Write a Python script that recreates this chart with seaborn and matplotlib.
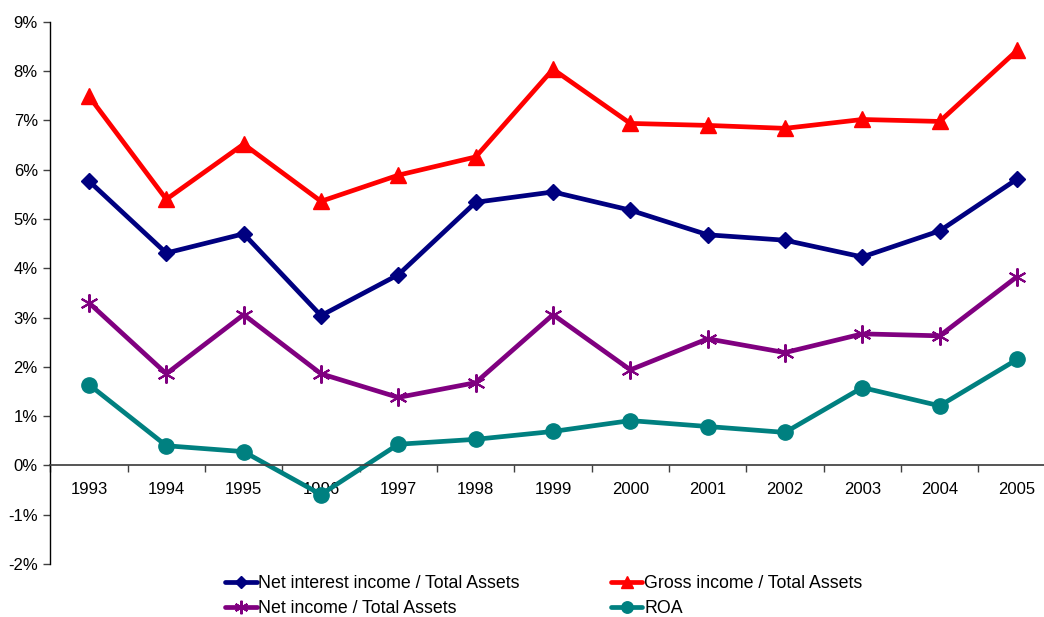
import matplotlib
matplotlib.use("Agg")
import matplotlib.pyplot as plt
import seaborn as sns
import pandas as pd
from matplotlib.ticker import FuncFormatter, FixedLocator

years = ["1993", "1994", "1995", "1996", "1997", "1998", "1999",
         "2000", "2001", "2002", "2003", "2004", "2005"]
net_interest = [5.77, 4.31, 4.70, 3.04, 3.87, 5.34, 5.55, 5.18, 4.68, 4.57, 4.23, 4.76, 5.81]
gross_income = [7.49, 5.40, 6.52, 5.36, 5.89, 6.26, 8.04, 6.94, 6.90, 6.84, 7.02, 6.98, 8.42]
net_income = [3.30, 1.86, 3.06, 1.86, 1.38, 1.68, 3.06, 1.94, 2.57, 2.29, 2.67, 2.63, 3.83]
roa = [1.64, 0.40, 0.28, -0.59, 0.43, 0.53, 0.69, 0.91, 0.79, 0.67, 1.58, 1.21, 2.15]

series_names = ["Net interest income / Total Assets", "Gross income / Total Assets",
                "Net income / Total Assets", "ROA"]
y_ticks = [-2, -1, 0, 1, 2, 3, 4, 5, 6, 7, 8, 9]

sns.set_theme(style="white")
plt.rcParams['font.family'] = ['Liberation Sans', 'DejaVu Sans']

fig = plt.figure(figsize=(10.44, 6.17), dpi=100)
ax = fig.add_axes([0.0482, 0.0859, 0.963, 0.8786])

styles = [
    (net_interest, "#000080", "D", 8.5, 1.0),
    (gross_income, "#FF0000", "^", 11, 1.0),
    (net_income, "#800080", (6, 2, 0), 13, 1.5),
    (roa, "#008080", "o", 11, 1.0),
]
idx = list(range(len(years)))
for name, (vals, col, mk, ms, mew) in zip(series_names, styles):
    df = pd.DataFrame({"x": idx, "y": vals})
    sns.lineplot(data=df, x="x", y="y", ax=ax, color=col, marker=mk, markersize=ms,
                 markeredgecolor=col, markerfacecolor=col, markeredgewidth=mew,
                 linewidth=3.4, label=name, legend=False)

ax.set_xlim(-0.5, len(years) - 0.5)
ax.set_ylim(-2, 9)
ax.set_yticks(y_ticks)
ax.yaxis.set_major_formatter(FuncFormatter(lambda v, p: f"{int(round(v))}%"))
ax.xaxis.set_major_locator(FixedLocator([i - 0.5 for i in range(len(years) + 1)]))
ax.xaxis.set_minor_locator(FixedLocator(idx))
ax.set_xticklabels([], minor=False)
ax.set_xticklabels(years, minor=True)
ax.tick_params(axis="x", which="major", length=5, width=1, color="#404040", direction="out", bottom=True)
ax.tick_params(axis="x", which="minor", length=0, pad=12, labelsize=12, colors="black")
ax.tick_params(axis="y", length=5, width=1, color="#404040", direction="out", left=True,
               labelsize=12, pad=4, labelcolor="black")
ax.set_xlabel("")
ax.set_ylabel("")
for s in ["top", "right"]:
    ax.spines[s].set_visible(False)
ax.spines["bottom"].set_position(("data", 0))
ax.spines["bottom"].set_color("#404040")
ax.spines["left"].set_color("black")
ax.spines["left"].set_linewidth(1)
ax.grid(False)

h, l = ax.get_legend_handles_labels()
order = [0, 2, 1, 3]
leg = fig.legend([h[i] for i in order], [l[i] for i in order], ncol=2, loc="lower left",
                 bbox_to_anchor=(0.204, -0.020), frameon=False, fontsize=12.8,
                 handlelength=1.75, handletextpad=0.1, columnspacing=5.15, labelspacing=0.42,
                 borderpad=0.2, markerscale=0.75)
for t in leg.get_texts():
    t.set_color("black")

fig.savefig("out.png", dpi=100)
